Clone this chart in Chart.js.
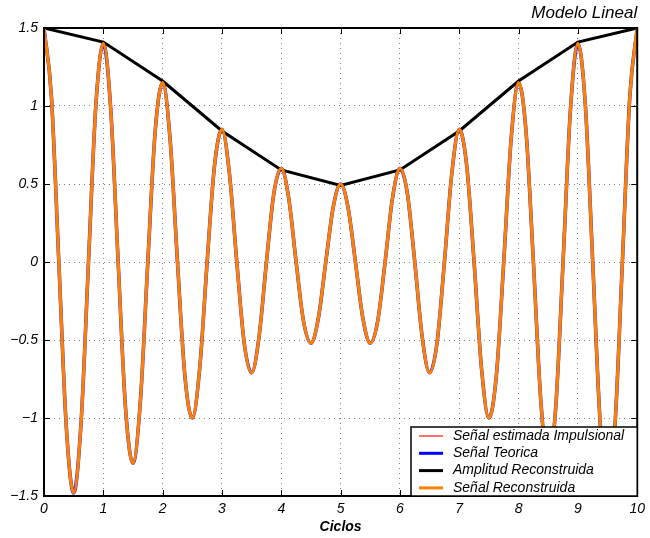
<!DOCTYPE html>
<html>
<head>
<meta charset="utf-8">
<script src="https://cdn.jsdelivr.net/npm/chart.js@4"></script>
<style>
  html, body { margin: 0; padding: 0; background: #fff; }
  #wrap { width: 650px; height: 538px; }
</style>
</head>
<body>
<div id="wrap"><canvas id="chart" width="650" height="538"></canvas></div>
<script>
// samples every 1/8 of a cycle
const sampleStep = 0.125;
const senal = [
  1.5, 1.06, 0, -1.05, -1.48, -1.03, 0, 1.01,
  1.40, 0.98, 0, -0.94, -1.29, -0.89, 0, 0.84,
  1.15, 0.79, 0, -0.73, -1.0, -0.68, 0, 0.62,
  0.85, 0.57, 0, -0.52, -0.71, -0.48, 0, 0.44,
  0.60, 0.41, 0, -0.38, -0.52, -0.36, 0, 0.35,
  0.5,
  0.35, 0, -0.36, -0.52, -0.38, 0, 0.41, 0.60,
  0.44, 0, -0.48, -0.71, -0.52, 0, 0.57, 0.85,
  0.62, 0, -0.68, -1.0, -0.73, 0, 0.79, 1.15,
  0.84, 0, -0.89, -1.29, -0.94, 0, 0.98, 1.40,
  1.01, 0, -1.03, -1.48, -1.05, 0, 1.06, 1.5
];
const ciclos = [0, 1, 2, 3, 4, 5, 6, 7, 8, 9, 10];
const amplitud = [1.5, 1.41, 1.16, 0.84, 0.59, 0.49, 0.59, 0.84, 1.16, 1.41, 1.5];
const yTicks = [-1.5, -1, -0.5, 0, 0.5, 1, 1.5];

const senalPts = senal.map((v, i) => ({ x: i * sampleStep, y: v }));
const ampPts = ciclos.map((c, i) => ({ x: c, y: amplitud[i] }));

const legendItems = [
  { label: 'Señal estimada Impulsional', color: '#ff7070', width: 2 },
  { label: 'Señal Teorica', color: '#0000ff', width: 3 },
  { label: 'Amplitud Reconstruida', color: '#000000', width: 3 },
  { label: 'Señal Reconstruida', color: '#ff8000', width: 3 }
];

const fontFam = '"Liberation Sans", Arial, Helvetica, sans-serif';
Chart.defaults.font.family = fontFam;
Chart.defaults.font.style = 'italic';
Chart.defaults.font.size = 14;
Chart.defaults.color = '#000';

function fmt(v) {
  const s = String(v);
  return v < 0 ? '\u2212' + s.slice(1) : s;
}

const decor = {
  id: 'decor',
  afterDraw(chart) {
    const ctx = chart.ctx;
    const a = chart.chartArea;
    const xs = chart.scales.x, ys = chart.scales.y;
    ctx.save();
    // inward ticks
    ctx.strokeStyle = '#000';
    ctx.lineWidth = 1;
    ctx.beginPath();
    ciclos.forEach(c => {
      const px = Math.round(xs.getPixelForValue(c)) + 0.5;
      ctx.moveTo(px, a.bottom); ctx.lineTo(px, a.bottom - 6);
      ctx.moveTo(px, a.top); ctx.lineTo(px, a.top + 6);
    });
    yTicks.forEach(t => {
      const py = Math.round(ys.getPixelForValue(t)) + 0.5;
      ctx.moveTo(a.left, py); ctx.lineTo(a.left + 6, py);
      ctx.moveTo(a.right, py); ctx.lineTo(a.right - 6, py);
    });
    ctx.stroke();
    // box
    ctx.lineWidth = 2;
    ctx.strokeRect(a.left, a.top, a.right - a.left, a.bottom - a.top);

    // title and axis label
    ctx.fillStyle = '#000';
    ctx.font = 'italic 17px ' + fontFam;
    ctx.textAlign = 'right';
    ctx.textBaseline = 'alphabetic';
    ctx.fillText('Modelo Lineal', a.right, 18);
    ctx.font = 'italic bold 14px ' + fontFam;
    ctx.textAlign = 'center';
    ctx.textBaseline = 'middle';
    ctx.fillText('Ciclos', (a.left + a.right) / 2, 527);

    // legend
    const lx = 411, ly = 427, lw = a.right - 411, lh = a.bottom - 427;
    ctx.fillStyle = '#fff';
    ctx.fillRect(lx, ly, lw, lh);
    ctx.lineWidth = 1.5;
    ctx.strokeStyle = '#000';
    ctx.strokeRect(lx, ly, lw, lh);
    ctx.font = 'italic 14px ' + fontFam;
    ctx.textAlign = 'left';
    ctx.textBaseline = 'middle';
    legendItems.forEach((it, i) => {
      const y = 436 + i * 17.3;
      ctx.strokeStyle = it.color;
      ctx.lineWidth = it.width;
      ctx.beginPath();
      ctx.moveTo(419, y); ctx.lineTo(443, y);
      ctx.stroke();
      ctx.fillStyle = '#000';
      ctx.fillText(it.label, 453, y);
    });
    ctx.restore();
  }
};

const tickFont = { family: fontFam, size: 14, style: 'italic', weight: 'normal' };

new Chart(document.getElementById('chart'), {
  type: 'line',
  data: {
    datasets: [
      { data: senalPts, borderColor: '#ff7070', borderWidth: 1, pointRadius: 0, cubicInterpolationMode: 'monotone', order: 4 },
      { data: senalPts, borderColor: '#2020ff', borderWidth: 3.6, pointRadius: 0, cubicInterpolationMode: 'monotone', order: 3 },
      { data: ampPts, borderColor: '#000000', borderWidth: 3, pointRadius: 0, tension: 0, order: 2 },
      { data: senalPts, borderColor: '#ff8000', borderWidth: 3.2, pointRadius: 0, cubicInterpolationMode: 'monotone', order: 1 }
    ]
  },
  options: {
    responsive: false,
    animation: false,
    layout: { padding: { top: 28, right: 11, left: 0, bottom: 0 } },
    plugins: { legend: { display: false }, tooltip: { enabled: false } },
    scales: {
      x: {
        type: 'linear', min: 0, max: 10,
        afterFit(s) { s.height = 42; },
        ticks: { stepSize: 1, padding: 5, color: '#000', font: tickFont, maxRotation: 0 },
        grid: { color: 'rgba(0,0,0,0.5)', drawTicks: false, lineWidth: 1 },
        border: { display: false, dash: [1, 4] }
      },
      y: {
        min: -1.5, max: 1.5,
        afterFit(s) { s.width = 44; },
        ticks: { stepSize: 0.5, padding: 6, color: '#000', font: tickFont, callback: v => fmt(v) },
        grid: { color: 'rgba(0,0,0,0.5)', drawTicks: false, lineWidth: 1 },
        border: { display: false, dash: [1, 4] }
      }
    }
  },
  plugins: [decor]
});
</script>
</body>
</html>
